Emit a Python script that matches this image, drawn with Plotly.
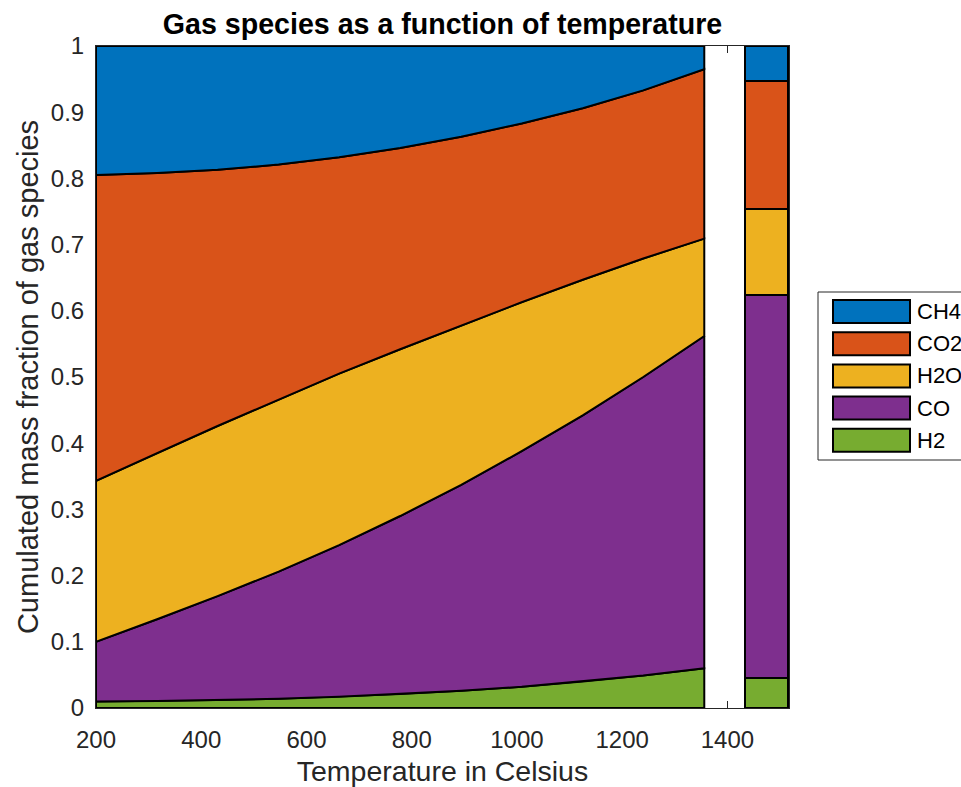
import numpy as np
import plotly.graph_objects as go

# ---------------- data ----------------
temps = [200, 316, 431, 547, 662, 778, 894, 1009, 1125, 1240, 1356]
species = ["H2", "CO", "H2O", "CO2", "CH4"]          # stacking order (bottom -> top)
colors = {"H2": "#77AC30", "CO": "#7E2F8E", "H2O": "#EDB120",
          "CO2": "#D95319", "CH4": "#0072BD"}

frac_H2 = [0.010, 0.0105, 0.012, 0.014, 0.017, 0.021, 0.026, 0.032, 0.040, 0.049, 0.060]
frac_CO = [0.090, 0.1235, 0.157, 0.192, 0.229, 0.269, 0.311, 0.356, 0.402, 0.451, 0.502]
frac_H2O = [0.243, 0.251, 0.257, 0.260, 0.259, 0.252, 0.241, 0.225, 0.205, 0.179, 0.147]
frac_CO2 = [0.462, 0.423, 0.387, 0.355, 0.327, 0.304, 0.285, 0.270, 0.259, 0.254, 0.256]
frac_CH4 = [0.195, 0.192, 0.187, 0.179, 0.168, 0.154, 0.137, 0.117, 0.094, 0.067, 0.035]

bar_temp = 1475
bar_width = 82
bar_frac = {"H2": 0.046, "CO": 0.578, "H2O": 0.130, "CO2": 0.193, "CH4": 0.053}

legend_order = ["CH4", "CO2", "H2O", "CO", "H2"]
x_ticks = [200, 400, 600, 800, 1000, 1200, 1400]
y_ticks = [0, 0.1, 0.2, 0.3, 0.4, 0.5, 0.6, 0.7, 0.8, 0.9, 1]

fracs = {"H2": frac_H2, "CO": frac_CO, "H2O": frac_H2O, "CO2": frac_CO2, "CH4": frac_CH4}

# ---------------- figure ----------------
fig = go.Figure()
x = np.array(temps, dtype=float)
base = np.zeros_like(x)
for sp in species:
    top = base + np.array(fracs[sp])
    px = np.concatenate([x, x[::-1], x[:1]])
    py = np.concatenate([top, base[::-1], top[:1]])
    fig.add_trace(go.Scatter(x=px, y=py, mode="lines", fill="toself",
                             fillcolor=colors[sp],
                             line=dict(color="black", width=2),
                             showlegend=False, hoverinfo="skip"))
    base = top

for sp in species:
    fig.add_trace(go.Bar(x=[bar_temp], y=[bar_frac[sp]], width=[bar_width],
                         marker=dict(color=colors[sp], line=dict(color="black", width=2)),
                         showlegend=False))

# manual MATLAB-like legend
W, H = 961, 787
L, R, T, B = 96, 172, 46, 79
pw, ph = W - L - R, H - T - B


def xp(pxl):
    return (pxl - L) / pw


def yp(pxl):
    return (H - B - pxl) / ph


shapes = [dict(type="rect", xref="paper", yref="paper",
               x0=xp(818), x1=xp(980), y0=yp(460), y1=yp(292),
               line=dict(color="#262626", width=1), fillcolor="white")]
annotations = []
for i, sp in enumerate(legend_order):
    cy = 311.5 + 32.2 * i
    shapes.append(dict(type="rect", xref="paper", yref="paper",
                       x0=xp(833), x1=xp(910), y0=yp(cy + 11.5), y1=yp(cy - 11.5),
                       line=dict(color="black", width=2), fillcolor=colors[sp]))
    annotations.append(dict(xref="paper", yref="paper", x=xp(915), y=yp(cy),
                            text=sp, showarrow=False, xanchor="left", yanchor="middle",
                            font=dict(family="Liberation Sans, Arial", size=22, color="black")))

fig.update_layout(
    width=W, height=H,
    margin=dict(l=L, r=R, t=T, b=B, autoexpand=False),
    paper_bgcolor="white", plot_bgcolor="white",
    barmode="stack", bargap=0,
    title=dict(text="<b>Gas species as a function of temperature</b>",
               x=(L + pw / 2) / W, xanchor="center", y=1 - 24 / H, yanchor="middle",
               font=dict(family="Liberation Sans, Arial", size=28.6, color="black")),
    shapes=shapes, annotations=annotations,
    font=dict(family="Liberation Sans, Arial", color="#262626"),
)
fig.update_xaxes(range=[200, 1517], tickvals=x_ticks, ticks="inside", ticklen=7,
                 tickcolor="#262626", showline=True, linecolor="#262626", linewidth=1,
                 mirror="ticks", showgrid=False, zeroline=False, layer="below traces",
                 ticklabelstandoff=10,
                 tickfont=dict(size=24, color="#262626"),
                 title=dict(text="Temperature in Celsius", standoff=13,
                            font=dict(size=28.5, color="#262626")))
fig.update_yaxes(range=[0, 1], tickvals=y_ticks, ticks="inside", ticklen=7,
                 tickcolor="#262626", showline=True, linecolor="#262626", linewidth=1,
                 mirror="ticks", showgrid=False, zeroline=False, layer="below traces",
                 ticklabelstandoff=6,
                 tickfont=dict(size=24, color="#262626"),
                 title=dict(text="Cumulated mass fraction of gas species", standoff=3,
                            font=dict(size=29, color="#262626")))

fig.write_html("out.html")
